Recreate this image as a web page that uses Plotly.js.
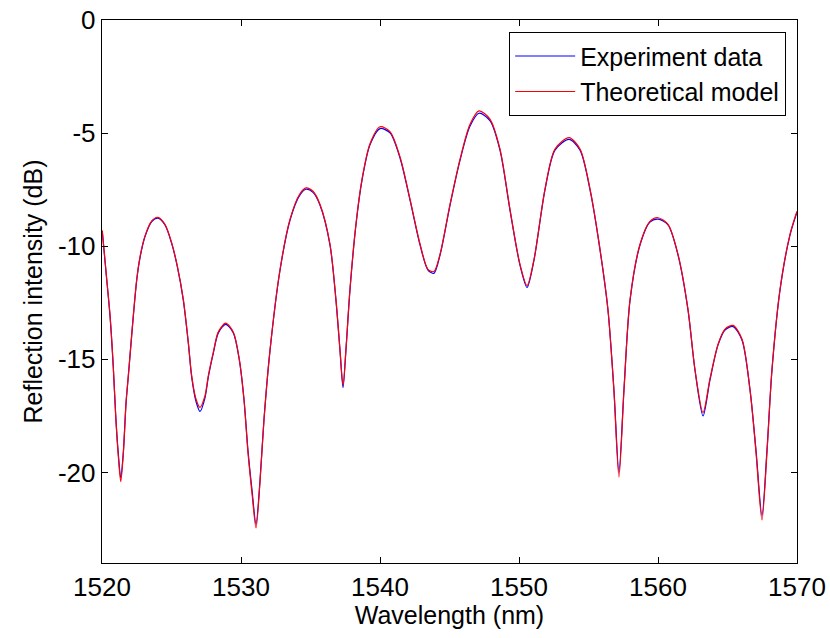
<!DOCTYPE html>
<html>
<head>
<meta charset="utf-8">
<script src="https://cdn.plot.ly/plotly-3.0.1.min.js"></script>
<style>html,body{margin:0;padding:0;background:#fff;}#chart{width:830px;height:638px;}</style>
</head>
<body>
<div id="chart"></div>
<script>
// Wavelength samples (nm)
var wavelength = [1520.02,1520.34,1520.58,1520.81,1520.99,1521.17,1521.35,1521.53,1521.73,1521.89,
1522.01,1522.25,1522.50,1522.73,1523.09,1523.58,1524.01,1524.53,1525.01,1525.42,
1525.85,1526.21,1526.45,1526.76,1527.05,1527.41,1527.65,1528.01,1528.37,1528.90,
1529.45,1529.88,1530.22,1530.50,1530.79,1531.08,1531.37,1531.65,1532.09,1532.81,
1533.53,1534.24,1534.68,1535.18,1535.68,1536.40,1536.83,1537.12,1537.34,1537.55,
1537.84,1538.27,1538.71,1539.28,1540.00,1540.72,1541.44,1542.16,1542.88,1543.45,
1543.88,1544.32,1545.04,1545.76,1546.47,1547.12,1547.91,1548.63,1549.35,1550.07,
1550.58,1551.08,1551.87,1552.59,1553.60,1554.39,1555.11,1555.83,1556.40,1556.83,
1557.19,1557.55,1557.99,1558.71,1559.42,1560.00,1560.72,1561.44,1562.16,1562.66,
1563.24,1563.74,1564.32,1564.82,1565.40,1566.04,1566.62,1567.05,1567.48,1567.84,
1568.20,1568.78,1569.50,1570.00];

// Experiment data (dB)
var experimentData = [-9.36,-11.49,-13.11,-15.32,-17.53,-19.14,-20.24,-19.14,-16.93,-15.77,
-14.88,-13.11,-11.49,-10.52,-9.58,-8.91,-8.76,-9.06,-9.87,-10.90,
-12.38,-14.28,-15.77,-16.85,-17.30,-16.70,-15.77,-14.72,-13.83,-13.45,
-13.83,-15.03,-16.80,-19.01,-20.77,-22.28,-20.33,-17.68,-14.59,-11.05,
-8.84,-7.73,-7.48,-7.62,-8.18,-9.94,-12.38,-14.59,-16.25,-14.59,
-11.93,-9.06,-7.07,-5.52,-4.80,-4.99,-6.10,-7.96,-9.94,-11.05,
-11.20,-10.39,-8.18,-6.19,-4.70,-4.12,-4.45,-5.75,-8.40,-10.83,
-11.82,-10.61,-7.51,-5.75,-5.28,-5.75,-7.51,-10.17,-12.82,-16.35,
-20.00,-16.35,-12.38,-9.94,-8.93,-8.80,-9.06,-10.39,-12.82,-15.47,
-17.50,-15.91,-14.36,-13.70,-13.55,-14.14,-16.35,-19.01,-21.90,-19.01,
-15.47,-11.93,-9.50,-8.49];

// Theoretical model (dB)
var theoryData = [-9.30,-11.45,-13.05,-15.30,-17.55,-19.25,-20.40,-19.20,-16.90,-15.75,
-14.85,-13.08,-11.45,-10.48,-9.55,-8.88,-8.72,-9.03,-9.84,-10.88,
-12.35,-14.25,-15.72,-16.75,-17.12,-16.60,-15.72,-14.68,-13.78,-13.40,
-13.80,-15.00,-16.82,-19.10,-20.90,-22.45,-20.40,-17.70,-14.58,-11.02,
-8.80,-7.68,-7.42,-7.57,-8.14,-9.90,-12.35,-14.57,-16.15,-14.57,
-11.90,-9.02,-7.02,-5.47,-4.72,-4.93,-6.05,-7.92,-9.90,-11.02,
-11.12,-10.35,-8.14,-6.15,-4.62,-4.02,-4.38,-5.70,-8.36,-10.80,
-11.74,-10.58,-7.47,-5.70,-5.20,-5.70,-7.47,-10.14,-12.80,-16.40,
-20.20,-16.40,-12.35,-9.90,-8.90,-8.74,-9.03,-10.36,-12.80,-15.45,
-17.35,-15.85,-14.33,-13.66,-13.50,-14.10,-16.35,-19.10,-22.10,-19.10,
-15.45,-11.90,-9.46,-8.45];

var xTicks = [1520,1530,1540,1550,1560,1570];
var yTicks = [0,-5,-10,-15,-20];

var font = "Liberation Sans, Arial, Helvetica, sans-serif";

var traces = [
  {x: wavelength, y: experimentData, type: 'scatter', mode: 'lines', name: 'Experiment data',
   line: {color: '#0000ff', width: 1.2, shape: 'spline', smoothing: 0.8}},
  {x: wavelength, y: theoryData, type: 'scatter', mode: 'lines', name: 'Theoretical model',
   line: {color: '#ff0000', width: 1.2, shape: 'spline', smoothing: 0.8}}
];

var axisCommon = {
  showline: true, linecolor: '#000', linewidth: 1.3, mirror: 'ticks',
  ticks: 'inside', ticklen: 6, tickcolor: '#000', tickwidth: 1,
  showgrid: false, zeroline: false,
  tickfont: {family: font, size: 26, color: '#000'}
};

var layout = {
  width: 830, height: 638,
  margin: {l: 102, r: 33, t: 20, b: 75},
  paper_bgcolor: '#fff', plot_bgcolor: '#fff',
  font: {family: font, color: '#000'},
  showlegend: true,
  xaxis: Object.assign({}, axisCommon, {
    range: [1520, 1570], tickvals: xTicks, ticktext: xTicks.map(String),
    title: {text: 'Wavelength (nm)', font: {family: font, size: 25, color: '#000'}, standoff: 4}
  }),
  yaxis: Object.assign({}, axisCommon, {
    range: [-24, 0], tickvals: yTicks, ticktext: yTicks.map(String),
    title: {text: 'Reflection intensity (dB)', font: {family: font, size: 25, color: '#000'}, standoff: 8}
  }),
  legend: {
    x: 0.984, y: 0.978, xanchor: 'right', yanchor: 'top',
    bgcolor: '#fff', bordercolor: '#000', borderwidth: 1.3,
    font: {family: font, size: 25, color: '#000'},
    tracegroupgap: 0, itemwidth: 60
  }
};

Plotly.newPlot('chart', traces, layout, {displayModeBar: false, staticPlot: true});
</script>
</body>
</html>
